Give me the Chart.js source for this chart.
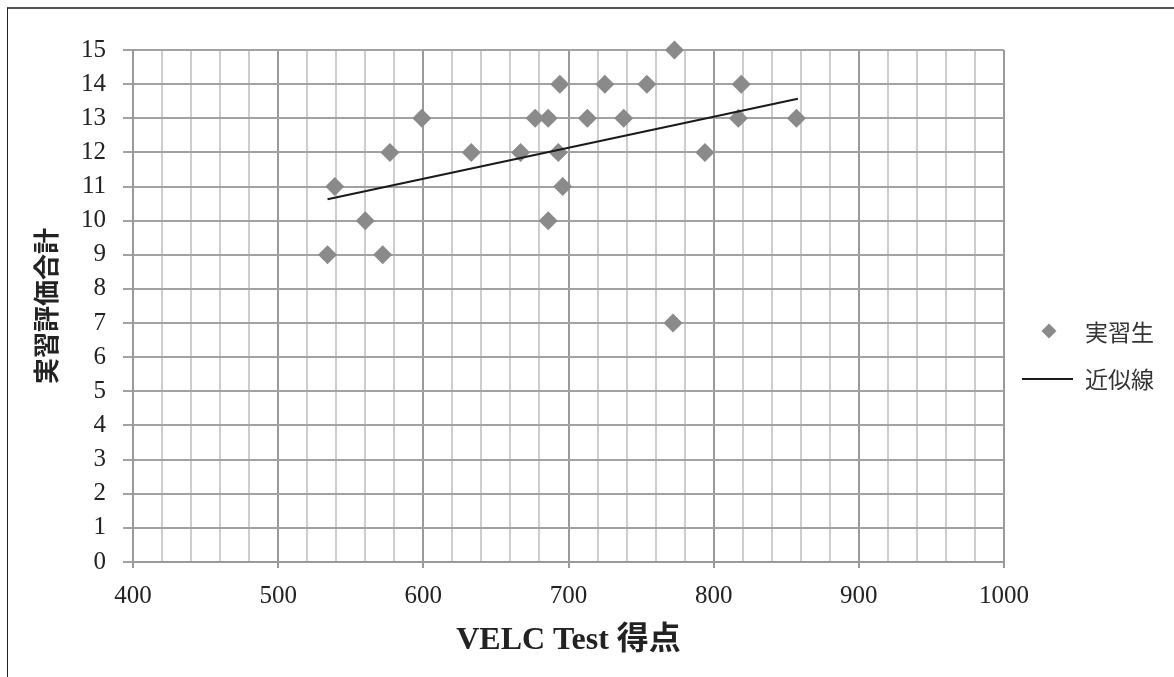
<!DOCTYPE html>
<html>
<head>
<meta charset="utf-8">
<script src="https://cdn.jsdelivr.net/npm/chart.js@4.4.1/dist/chart.umd.min.js"></script>
<style>
  html, body { margin: 0; padding: 0; background: #fff; }
  #wrap { position: relative; width: 1174px; height: 677px; overflow: hidden; }
  #frame { position: absolute; left: 7px; top: 7px; right: -2px; bottom: -2px;
           border-top: 2px solid #555; border-left: 1px solid #222; }
  canvas { position: absolute; left: 0; top: 0; }
</style>
</head>
<body>
<div id="wrap">
  <div id="frame"></div>
  <canvas id="chart" width="1174" height="677"></canvas>
</div>
<script>
// VELC Test score (x) and practicum evaluation total (y), one entry per student
const velcScores = [534, 539, 560, 572, 577, 599, 633, 667, 677, 686, 686, 694,
                    693, 696, 713, 725, 738, 754, 773, 772, 794, 817, 819, 857];
const evalTotals = [9, 11, 10, 9, 12, 13, 12, 12, 13, 13, 10, 14,
                    12, 11, 13, 14, 13, 14, 15, 7, 12, 13, 14, 13];

// approximate (trend) line end points
const trendX = [534, 858];
const trendY = [10.63, 13.57];

const seriesNames = ['実習生', '近似線'];
const xTitle = 'VELC Test 得点';
const yTitle = '実習評価合計';

const pointColor = '#8a8a8a';
const lineColor = '#1a1a1a';

const scatterData = velcScores.map((x, i) => ({ x: x, y: evalTotals[i] }));
const trendData = trendX.map((x, i) => ({ x: x, y: trendY[i] }));

const isMajor = v => Math.round(v) % 100 === 0;

// legend drawn at the right, like the original sheet chart
const sideLegend = {
  id: 'sideLegend',
  afterDraw(chart) {
    const ctx = chart.ctx;
    ctx.save();
    ctx.font = '23px "Noto Sans CJK JP", sans-serif';
    ctx.textBaseline = 'middle';
    ctx.textAlign = 'left';

    // diamond marker
    const dx = 1049, dy = 331, r = 7.5;
    ctx.beginPath();
    ctx.moveTo(dx, dy - r);
    ctx.lineTo(dx + r, dy);
    ctx.lineTo(dx, dy + r);
    ctx.lineTo(dx - r, dy);
    ctx.closePath();
    ctx.fillStyle = pointColor;
    ctx.fill();
    ctx.fillStyle = '#333';
    ctx.fillText(seriesNames[0], 1085, 332);

    // line marker
    ctx.beginPath();
    ctx.moveTo(1022, 379);
    ctx.lineTo(1073, 379);
    ctx.strokeStyle = lineColor;
    ctx.lineWidth = 2;
    ctx.stroke();
    ctx.fillText(seriesNames[1], 1085, 379);
    ctx.restore();
  }
};

new Chart(document.getElementById('chart'), {
  type: 'scatter',
  data: {
    datasets: [
      {
        label: seriesNames[1],
        data: trendData,
        showLine: true,
        borderColor: lineColor,
        borderWidth: 2,
        pointRadius: 0,
        fill: false
      },
      {
        label: seriesNames[0],
        data: scatterData,
        pointStyle: 'rectRot',
        pointRadius: 9.5,
        pointBackgroundColor: pointColor,
        pointBorderWidth: 0,
        clip: false
      }
    ]
  },
  options: {
    responsive: false,
    animation: false,
    events: [],
    layout: { padding: { left: 20, top: 50, right: 170, bottom: 0 } },
    plugins: {
      legend: { display: false },
      tooltip: { enabled: false }
    },
    scales: {
      x: {
        type: 'linear',
        min: 400,
        max: 1000,
        afterFit(scale) { scale.height = 115; },
        ticks: {
          stepSize: 20,
          autoSkip: false,
          maxRotation: 0,
          padding: 13,
          color: '#222',
          font: { family: '"Liberation Serif", serif', size: 25 },
          callback: v => isMajor(v) ? v : ''
        },
        grid: {
          color: ctx => isMajor(ctx.tick.value) ? '#9a9a9a' : '#cdcdcd',
          tickColor: ctx => isMajor(ctx.tick.value) ? '#9a9a9a' : 'rgba(0,0,0,0)',
          tickLength: 6,
          lineWidth: 2
        },
        border: { color: '#9a9a9a', width: 2 },
        title: {
          display: true,
          text: xTitle,
          color: '#222',
          font: { family: '"Liberation Serif", "Noto Sans CJK JP", serif', size: 32, weight: 'bold' },
          padding: { top: 0, bottom: 17 }
        }
      },
      y: {
        min: 0,
        max: 15,
        afterFit(scale) { scale.width = 113; },
        ticks: {
          stepSize: 1,
          padding: 17,
          color: '#222',
          font: { family: '"Liberation Serif", serif', size: 25 }
        },
        grid: {
          color: '#a2a2a2',
          tickColor: '#a2a2a2',
          tickLength: 10,
          lineWidth: 2
        },
        border: { color: '#9a9a9a', width: 2 },
        title: {
          display: true,
          text: yTitle,
          color: '#222',
          font: { family: '"Noto Sans CJK JP", sans-serif', size: 26, weight: 'bold' },
          padding: { top: 11, bottom: 0 }
        }
      }
    }
  },
  plugins: [sideLegend]
});
</script>
</body>
</html>
